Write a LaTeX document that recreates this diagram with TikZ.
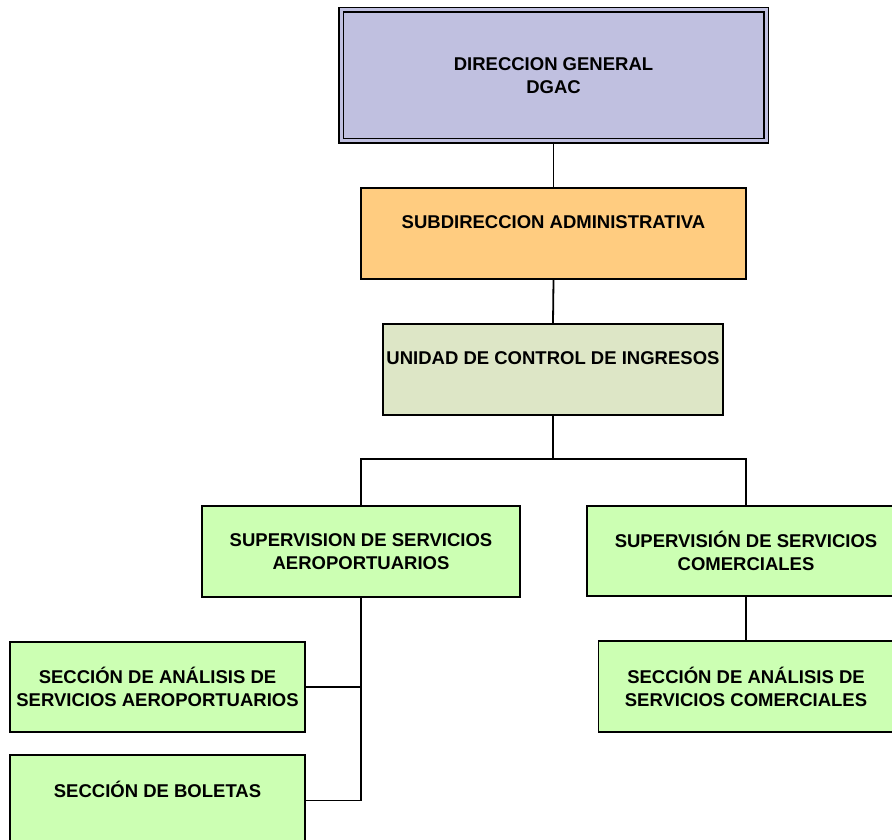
\documentclass[tikz,border=0pt]{standalone}
\usepackage{fontspec}
\setmainfont{Liberation Sans}
\definecolor{dgfill}{RGB}{192,192,224}
\definecolor{subfill}{RGB}{255,204,128}
\definecolor{ucifill}{RGB}{221,230,198}
\definecolor{grfill}{RGB}{204,255,179}
\begin{document}
\begin{tikzpicture}[x=1pt,y=-1pt,
  box/.style={draw=black, line width=1.8pt, rectangle, align=center, inner sep=0pt,
    font=\fontsize{18.5}{23}\selectfont\bfseries},
  conn/.style={draw=black, line width=1.8pt}]
\useasboundingbox (0,0) rectangle (892,840);
\clip (0,0) rectangle (892,840);
\node[box, fill=dgfill, double=dgfill, double distance=3pt, line width=1.6pt,
  minimum width=425pt, minimum height=131pt] (dg) at (553.5,75.5) {DIRECCION GENERAL\\DGAC};
\node[box, fill=subfill, minimum width=385pt, minimum height=91pt] (sub) at (553.5,233.5) {SUBDIRECCION ADMINISTRATIVA\\\mbox{}};
\node[box, fill=ucifill, minimum width=340pt, minimum height=91pt] (uci) at (553,369.5) {UNIDAD DE CONTROL DE INGRESOS\\\mbox{}};
\node[box, fill=grfill, minimum width=318pt, minimum height=91pt] (ssa) at (361,551.5) {SUPERVISION DE SERVICIOS\\AEROPORTUARIOS};
\node[box, fill=grfill, minimum width=318pt, minimum height=90pt] (ssc) at (746,551) {SUPERVISIÓN DE SERVICIOS\\COMERCIALES};
\node[box, fill=grfill, minimum width=295pt, minimum height=90pt] (saa) at (157.5,687) {SECCIÓN DE ANÁLISIS DE\\SERVICIOS AEROPORTUARIOS};
\node[box, fill=grfill, minimum width=295pt, minimum height=91pt] (sac) at (746,686.5) {SECCIÓN DE ANÁLISIS DE\\SERVICIOS COMERCIALES};
\node[box, fill=grfill, minimum width=295pt, minimum height=91pt] (sb) at (157.5,800.5) {SECCIÓN DE BOLETAS\\\mbox{}};
\coordinate (j) at (553,459);
\draw[conn] (dg.south) -- (sub.north);
\draw[conn] (sub.south) -- (uci.north);
\draw[conn] (uci.south) -- (j);
\draw[conn] (j) -| (ssa.north);
\draw[conn] (j) -| (ssc.north);
\draw[conn] (ssa.south) |- (sb.east);
\draw[conn] (saa.east) -- (saa.east -| ssa.south);
\draw[conn] (ssc.south) -- (sac.north);
\end{tikzpicture}
\end{document}
